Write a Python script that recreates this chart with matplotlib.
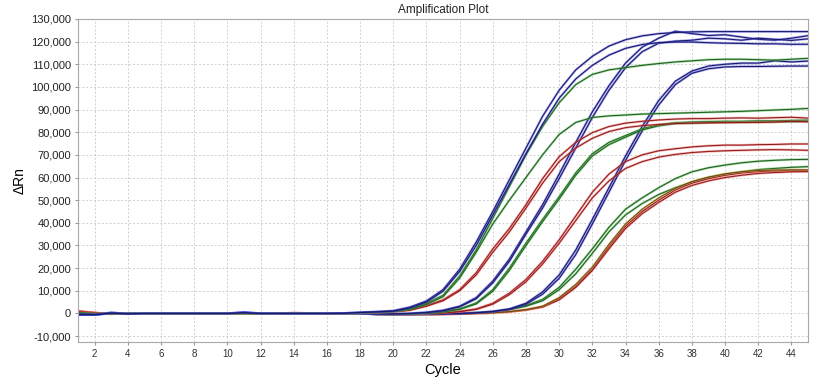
import matplotlib
matplotlib.use("Agg")
import matplotlib.pyplot as plt
import matplotlib.patheffects as pe
from matplotlib.ticker import FuncFormatter

plt.rcParams['font.family'] = ['Liberation Sans', 'DejaVu Sans']

cycles = list(range(1, 46))
x_ticks = list(range(2, 45, 2))
y_ticks = list(range(-10000, 130001, 10000))

# values in thousands of ΔRn, cycles 1..45
blue_1a = [-0.6, -0.5, 0.3, -0.1, 0, 0, 0, 0, 0, 0, 0.5, 0, 0, 0, 0, 0, 0.1,
           0.5, 0.8, 1.2, 2.8, 5.5, 10.5, 19.5, 31.5, 45, 59, 73, 87, 98.5, 107.5, 113.5, 118, 120.8,
           122.5, 123.5, 124, 124.3, 124.4, 124.4, 124.4, 124.4, 124.4, 124.4, 124.4]
blue_1b = [-0.3, -0.6, 0.1, -0.2, 0, 0, 0, 0, 0, 0, 0.3, 0, 0, 0, 0, 0, 0.1,
           0.4, 0.7, 1.0, 2.5, 5.0, 9.8, 18.5, 30, 43.5, 57, 70.5, 83.5, 95, 103.5, 109.5, 114, 117,
           118.7, 119.5, 119.8, 119.8, 119.5, 119.3, 119.2, 119.0, 119, 118.8, 118.8]
green_1a = [0.4, -0.2, 0, 0, 0, 0, 0, 0, 0, 0, 0, 0, 0, 0, 0, 0, 0,
            0.3, 0.6, 1.0, 2.0, 4.5, 8.0, 16.5, 28, 42, 56, 70, 82.5, 93, 101, 105.5, 107.5, 108.5,
            109.5, 110.3, 111, 111.5, 112, 112.2, 112.2, 112, 111.8, 112.2, 112.6]
green_1b = [0.2, -0.3, 0, 0, 0, 0, 0, 0, 0, 0, 0, 0, 0, 0, 0, 0, 0,
            0.3, 0.5, 0.9, 1.8, 4.0, 7.4, 15.6, 27, 39.5, 50, 60, 70, 79, 84.3, 86.5, 87.2, 87.6,
            88.0, 88.2, 88.4, 88.6, 88.8, 89.0, 89.2, 89.5, 89.8, 90.1, 90.5]
red_1a = [0.9, 0.2, -0.2, 0, 0, 0, 0, 0, 0, 0, 0, 0, 0, 0.2, 0.1, 0, 0,
          0.2, 0.4, 0.8, 1.5, 3.5, 6.0, 10.5, 18, 28.5, 37.5, 48, 59.5, 69.2, 75.5, 79.8, 82.5, 84,
          84.8, 85.4, 85.8, 86, 86, 86.2, 86.3, 86.2, 86.4, 86.6, 86.2]
red_1b = [0.7, 0.1, -0.1, 0, 0, 0, 0, 0, 0, 0, 0, 0, 0, 0.1, 0.1, 0, 0,
          0.2, 0.4, 0.7, 1.4, 3.2, 5.6, 10, 17, 27, 36, 46.5, 57.5, 67, 73, 77.3, 80.3, 82,
          82.9, 83.4, 83.8, 84, 84.1, 84.2, 84.3, 84.3, 84.5, 84.8, 84.6]
blue_2a = [-0.4, -0.5, 0.2, -0.1, 0, 0, 0, 0, 0, 0, 0.4, 0, 0, 0, 0, 0, 0,
           0, -0.2, -0.2, 0, 0.5, 1.4, 3.2, 7.0, 14.3, 24, 36, 48, 61.5, 75.5, 89, 100.5, 110.5,
           117.5, 121.5, 124.6, 123.5, 122.7, 123, 122, 121, 120.6, 121.5, 122.6]
blue_2b = [-0.5, -0.4, 0.3, -0.1, 0, 0, 0, 0, 0, 0, 0.3, 0, 0, 0, 0, 0, 0,
           0, -0.2, -0.2, 0, 0.4, 1.2, 2.9, 6.5, 13.5, 23, 35, 46.5, 59.5, 73, 86.5, 98.5, 108.5,
           115.5, 119.3, 120.2, 120.6, 121.5, 121.2, 120.6, 121.5, 121, 120.5, 121.2]
green_2a = [0.3, -0.2, 0, 0, 0, 0, 0, 0, 0, 0, 0, 0, 0, 0, 0, 0, 0,
            0, -0.2, -0.3, -0.2, 0.2, 0.8, 2.0, 4.6, 10.5, 20, 31, 41.5, 51.5, 62, 70.5, 75.5, 78.5,
            81.5, 83.3, 84.2, 84.5, 84.7, 84.8, 84.8, 85, 85, 85.2, 85.3]
green_2b = [0.2, -0.3, 0, 0, 0, 0, 0, 0, 0, 0, 0, 0, 0, 0, 0, 0, 0,
            0, -0.2, -0.3, -0.2, 0.1, 0.7, 1.8, 4.2, 9.8, 19, 30, 40.5, 50.5, 61, 69.5, 74.5, 77.8,
            81, 82.8, 83.8, 84, 84.2, 84.3, 84.3, 84.5, 84.5, 84.6, 84.7]
red_2a = [1.0, 0.3, -0.2, 0, 0, 0, 0, 0, 0, 0, 0, 0, 0, 0.2, 0.1, 0, 0,
          0, -0.2, -0.3, -0.3, 0, 0.3, 0.9, 2.0, 4.5, 9, 15, 23, 32.5, 43, 53.5, 61.5, 67,
          70, 71.8, 72.7, 73.5, 74, 74.3, 74.3, 74.5, 74.6, 74.8, 74.8]
red_2b = [0.8, 0.2, -0.1, 0, 0, 0, 0, 0, 0, 0, 0, 0, 0, 0.1, 0.1, 0, 0,
          0, -0.2, -0.3, -0.3, 0, 0.2, 0.8, 1.8, 4.1, 8.3, 14, 21.8, 31, 41, 51, 58.5, 64,
          67, 69, 70.2, 71, 71.5, 71.8, 72, 72.2, 72.3, 72.2, 72]
blue_3a = [-0.5, -0.6, 0.2, -0.2, 0, 0, 0, 0, 0, 0, 0.4, 0, 0, 0, 0, 0, 0,
           0, -0.3, -0.4, -0.4, -0.3, -0.2, 0, 0.3, 0.8, 1.8, 4.0, 8.5, 15.5, 26, 39.5, 53.5, 67.5,
           80.5, 92, 101, 106, 108, 108.8, 109, 109, 109.1, 109.2, 109.2]
blue_3b = [-0.4, -0.5, 0.3, -0.1, 0, 0, 0, 0, 0, 0, 0.3, 0, 0, 0, 0, 0, 0,
           0, -0.3, -0.4, -0.4, -0.3, -0.2, 0, 0.3, 0.9, 2.0, 4.5, 9.5, 17, 28, 41.5, 55.5, 69.5,
           82.5, 94, 102.5, 107, 109.2, 110, 110.5, 110.5, 111.5, 111, 111.4]
green_3a = [0.3, -0.2, 0, 0, 0, 0, 0, 0, 0, 0, 0, 0, 0, 0, 0, 0, 0,
            0, -0.3, -0.4, -0.4, -0.3, -0.2, 0, 0.3, 0.8, 1.8, 3.5, 6.2, 11.5, 19.5, 28.5, 38, 46,
            51, 55.5, 59.5, 62.5, 64.3, 65.5, 66.5, 67.2, 67.6, 67.9, 68]
green_3b = [0.2, -0.2, 0, 0, 0, 0, 0, 0, 0, 0, 0, 0, 0, 0, 0, 0, 0,
            0, -0.3, -0.4, -0.4, -0.3, -0.2, 0, 0.3, 0.7, 1.6, 3.2, 5.6, 10.5, 17.5, 26.5, 36, 43.5,
            48.5, 52.5, 55.5, 58, 60, 61.5, 62.5, 63.5, 64, 64.5, 64.8]
red_3a = [1.1, 0.3, -0.2, 0, 0, 0, 0, 0, 0, 0, 0, 0, 0, 0.2, 0.1, 0, 0,
          0, -0.3, -0.5, -0.5, -0.4, -0.3, -0.2, 0, 0.3, 0.8, 1.6, 3.0, 6.5, 12, 19.5, 29.5, 38.5,
          45, 50, 54.5, 57.5, 59.5, 61, 62, 62.6, 62.9, 63, 63]
red_3b = [0.9, 0.2, -0.2, 0, 0, 0, 0, 0, 0, 0, 0, 0, 0, 0.1, 0.1, 0, 0,
          0, -0.3, -0.5, -0.5, -0.4, -0.3, -0.2, 0, 0.3, 0.7, 1.5, 2.8, 6.0, 11.5, 19, 28.5, 37.5,
          44, 49, 53.5, 56.5, 58.5, 60, 61, 61.8, 62.2, 62.5, 62.6]
olive_3c = [0.8, 0.2, -0.1, 0, 0, 0, 0, 0, 0, 0, 0, 0, 0, 0.1, 0, 0, 0,
            0, -0.3, -0.5, -0.5, -0.4, -0.3, -0.2, 0, 0.3, 0.8, 1.7, 3.2, 7.0, 12.8, 20.5, 30.5, 39.5,
            46, 51, 55.2, 58.2, 60.2, 61.6, 62.6, 63.1, 63.3, 63.4, 63.4]

series = [
    (green_3a, 'g'), (green_3b, 'g'), (red_3a, 'r'), (red_3b, 'r'), (olive_3c, 'o'),
    (blue_3a, 'b'), (blue_3b, 'b'),
    (red_2a, 'r'), (red_2b, 'r'), (green_2a, 'g'), (green_2b, 'g'),
    (blue_2a, 'b'), (blue_2b, 'b'),
    (red_1a, 'r'), (red_1b, 'r'), (green_1a, 'g'), (green_1b, 'g'),
    (blue_1a, 'b'), (blue_1b, 'b'),
]

styles = {
    'b': ('#4a4ae8', '#161660'),
    'g': ('#4ab04a', '#1f5f1f'),
    'r': ('#f25a5a', '#8c1c1c'),
    'o': ('#d8a848', '#6a4a10'),
}

fig = plt.figure(figsize=(8.17, 3.79), dpi=100)
ax = fig.add_axes([0.0955, 0.0976, 0.8935, 0.8525])

for vals, key in series:
    assert len(vals) == len(cycles)
    halo, core = styles[key]
    ax.plot(cycles, [v * 1000 for v in vals], color=core, lw=0.75,
            path_effects=[pe.Stroke(linewidth=1.7, foreground=halo, alpha=0.5), pe.Normal()])

ax.set_xlim(1, 45)
ax.set_ylim(-12600, 130000)
ax.set_xticks(x_ticks)
ax.set_yticks(y_ticks)
ax.yaxis.set_major_formatter(FuncFormatter(lambda v, p: f"{int(v):,}"))
ax.tick_params(axis='x', labelsize=7, length=2, color='#999999', labelcolor='#333333', pad=3)
ax.tick_params(axis='y', labelsize=8, length=2, color='#999999', labelcolor='#222222', pad=3)
ax.grid(True, color='#cfcfcf', linestyle=(0, (2, 2)), linewidth=0.7)
ax.set_axisbelow(True)
for s in ax.spines.values():
    s.set_color('#a8a8a8')
    s.set_linewidth(0.8)

ax.set_title('Amplification Plot', fontsize=8.5, pad=4, color='#222222')
ax.set_ylabel('ΔRn', fontsize=10, labelpad=3)
ax.set_xlabel('Cycle', fontsize=10.5, labelpad=3)

fig.savefig('out.png', dpi=100)
